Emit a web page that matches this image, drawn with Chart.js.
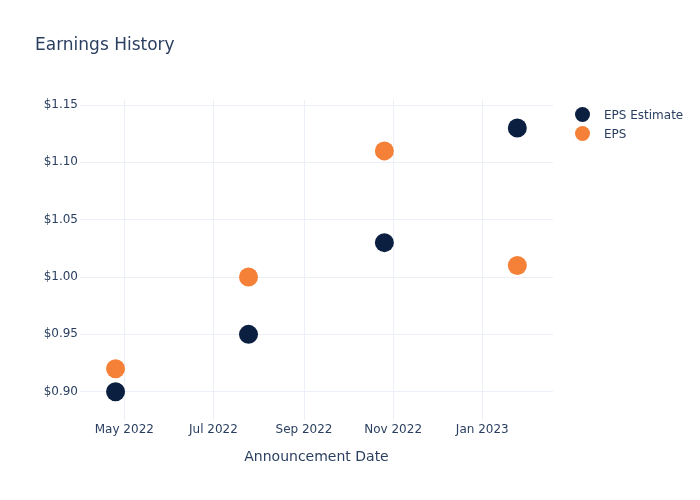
<!DOCTYPE html>
<html>
<head>
<meta charset="utf-8">
<script src="https://cdn.jsdelivr.net/npm/chart.js@4/dist/chart.umd.min.js"></script>
<style>
  body { margin: 0; background: #fff; font-family: "DejaVu Sans", sans-serif; }
  #wrap { position: relative; width: 700px; height: 500px; }
  #title { position: absolute; left: 35px; top: 34px; font-size: 17px; line-height: 20px; color: #2a3f5f; }
  .leg { position: absolute; left: 575px; font-size: 12px; color: #2a3f5f; line-height: 16px; }
  .leg span { display: inline-block; width: 15px; height: 15px; border-radius: 50%; vertical-align: middle; margin-right: 14px; position: relative; top: -1px; }
</style>
</head>
<body>
<div id="wrap">
  <canvas id="myChart" width="700" height="500"></canvas>
  <div id="title">Earnings History</div>
  <div class="leg" style="top:107px"><span style="background:#0b1f41"></span>EPS Estimate</div>
  <div class="leg" style="top:126px"><span style="background:#f58138"></span>EPS</div>
</div>
<script>
// data
const announceDates = ["2022-04-25", "2022-07-25", "2022-10-26", "2023-01-25"];
const epsEstimate = [0.90, 0.95, 1.03, 1.13];
const epsActual = [0.92, 1.00, 1.11, 1.01];
const xTickDates = ["2022-05-01", "2022-07-01", "2022-09-01", "2022-11-01", "2023-01-01"];
const xTickLabels = ["May 2022", "Jul 2022", "Sep 2022", "Nov 2022", "Jan 2023"];
const yTicks = [0.90, 0.95, 1.00, 1.05, 1.10, 1.15];

const navy = "#0b1f41";
const orange = "#f58138";
const textColor = "#2a3f5f";
const gridColor = "#ebf0f8";

Chart.defaults.font.family = "'DejaVu Sans', sans-serif";
Chart.defaults.color = textColor;

const xTickValues = xTickDates.map((d) => Date.parse(d));
const toPoints = (vals) => announceDates.map((d, i) => ({ x: Date.parse(d), y: vals[i] }));

const chart = new Chart(document.getElementById("myChart"), {
  type: "scatter",
  data: {
    datasets: [
      {
        label: "EPS Estimate",
        data: toPoints(epsEstimate),
        backgroundColor: navy,
        borderColor: navy,
        pointRadius: 9.5,
        pointHoverRadius: 9.5,
        borderWidth: 0,
      },
      {
        label: "EPS",
        data: toPoints(epsActual),
        backgroundColor: orange,
        borderColor: orange,
        pointRadius: 9.5,
        pointHoverRadius: 9.5,
        borderWidth: 0,
      },
    ],
  },
  options: {
    responsive: false,
    devicePixelRatio: 1,
    animation: false,
    layout: { padding: { top: 100, right: 147, left: 0, bottom: 0 } },
    plugins: {
      legend: { display: false },
      title: { display: false },
    },
    scales: {
      x: {
        type: "linear",
        min: Date.parse("2022-03-31T16:00:00Z"),
        max: Date.parse("2023-02-18T10:00:00Z"),
        afterBuildTicks: (scale) => {
          scale.ticks = xTickValues.map((v) => ({ value: v }));
        },
        afterFit: (scale) => { scale.height = 80; },
        ticks: {
          padding: 3,
          maxRotation: 0,
          autoSkip: false,
          font: { size: 12 },
          callback: (v) => xTickLabels[xTickValues.indexOf(v)],
        },
        grid: { color: gridColor, drawTicks: false },
        border: { display: false },
        title: {
          display: true,
          text: "Announcement Date",
          font: { size: 14 },
          padding: { top: 0, bottom: 34 },
        },
      },
      y: {
        min: 0.8753,
        max: 1.1544,
        afterBuildTicks: (scale) => {
          scale.ticks = yTicks.map((v) => ({ value: v }));
        },
        afterFit: (scale) => { scale.width = 80; },
        ticks: {
          padding: 2,
          font: { size: 12 },
          callback: (v) => "$" + v.toFixed(2),
        },
        grid: { color: gridColor, drawTicks: false },
        border: { display: false },
      },
    },
  },
});
</script>
</body>
</html>
